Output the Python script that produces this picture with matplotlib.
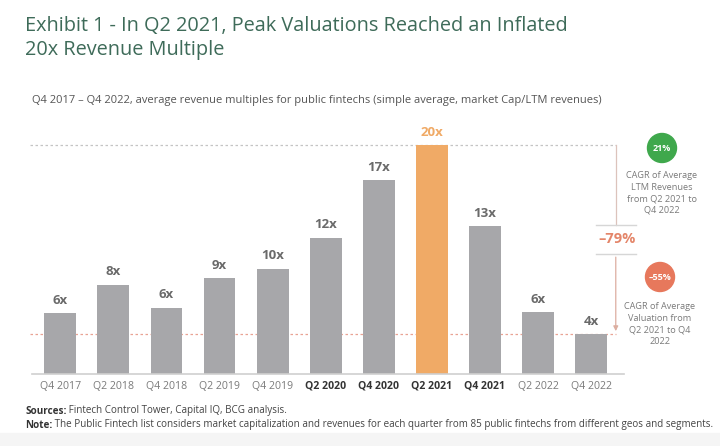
import matplotlib.pyplot as plt
from matplotlib.patches import Ellipse, Rectangle

plt.rcParams['font.family'] = ['Open Sans', 'DejaVu Sans']

# data
quarters = ['Q4 2017', 'Q2 2018', 'Q4 2018', 'Q2 2019', 'Q4 2019', 'Q2 2020',
            'Q4 2020', 'Q2 2021', 'Q4 2021', 'Q2 2022', 'Q4 2022']
multiples = [5.3, 7.8, 5.8, 8.4, 9.2, 11.9, 16.9, 20.0, 12.9, 5.4, 3.5]
value_labels = ['6x', '8x', '6x', '9x', '10x', '12x', '17x', '20x', '13x', '6x', '4x']
bold_quarters = ['Q2 2020', 'Q4 2020', 'Q2 2021', 'Q4 2021']
peak_quarter = 'Q2 2021'
revenue_cagr = '21%'
valuation_cagr = '–55%'
total_change = '–79%'

W, H = 720, 446
GRAY = '#a7a7aa'
ORANGE = '#f0aa66'
GREEN_T = '#3e6b59'
SALMON = '#e4866a'


def fx(x):
    return x / W


def fy(y):
    return 1 - y / H


fig = plt.figure(figsize=(7.2, 4.46), dpi=100)
fig.patches.append(Rectangle((0, 0), 1, fy(433), transform=fig.transFigure,
                             color='#f5f5f5', zorder=0))

ax = fig.add_axes([fx(32), fy(374), fx(624 - 32), fy(130) - fy(374)])
xs = list(range(len(quarters)))
colors = [ORANGE if q == peak_quarter else GRAY for q in quarters]
ax.bar(xs, multiples, width=0.6, color=colors, zorder=2)

ax.set_xlim(-0.533, 10.62)
ax.set_ylim(0, 244 / 11.45)
for s in ['top', 'right', 'left']:
    ax.spines[s].set_visible(False)
ax.spines['bottom'].set_color('#cfcfcf')
ax.spines['bottom'].set_linewidth(1.2)
ax.set_yticks([])
ax.set_xticks(xs)
ax.set_xticklabels(quarters, fontsize=7.6)
ax.tick_params(axis='x', length=0, pad=5)
for lab in ax.get_xticklabels():
    if lab.get_text() in bold_quarters:
        lab.set_fontweight('bold')
        lab.set_color('#333333')
    else:
        lab.set_color('#7a7a7a')

for x, v, lab, q in zip(xs, multiples, value_labels, quarters):
    ax.text(x, v + 0.55, lab, ha='center', va='bottom', fontsize=9.5,
            fontweight='bold',
            color=ORANGE if q == peak_quarter else '#6a6a6a')

# reference lines: peak and last value
peak = max(multiples)
last = multiples[-1]
x_arrow = 10.465
ax.plot([-0.57, x_arrow], [peak, peak], ls=(0, (2, 2)), color='#c4c4c4',
        lw=0.9, clip_on=False, zorder=1)
ax.plot([-0.57, x_arrow], [last, last], ls=(0, (2, 2)), color='#e9a394',
        lw=0.9, clip_on=False, zorder=1)

mid = (peak + last) / 2
gap = 1.3
ax.plot([x_arrow, x_arrow], [peak, mid + gap], color='#dcc3bc', lw=0.9,
        clip_on=False)
ax.annotate('', xy=(x_arrow, last), xytext=(x_arrow, mid - gap),
            arrowprops=dict(arrowstyle='-|>', color='#dcaea0', lw=0.9,
                            mutation_scale=7), annotation_clip=False)
for yy in (mid + gap, mid - gap):
    ax.plot([10.10, 10.84], [yy, yy], color='#d6d6d6', lw=1.0, clip_on=False)
ax.text(x_arrow + 0.02, mid, total_change, ha='center', va='center',
        fontsize=10.5, fontweight='bold', color=SALMON)

# CAGR bubbles
fig.patches.append(Ellipse((fx(662), fy(148)), 29 / W, 29 / H,
                           transform=fig.transFigure, color='#3fa84c'))
fig.text(fx(662), fy(148), revenue_cagr, ha='center', va='center',
         fontsize=6.5, fontweight='bold', color='white')
fig.text(fx(662), fy(193), 'CAGR of Average\nLTM Revenues\nfrom Q2 2021 to\nQ4 2022',
         ha='center', va='center', fontsize=6.6, color='#7a7a7a',
         linespacing=1.35)
fig.patches.append(Ellipse((fx(660), fy(277)), 29 / W, 29 / H,
                           transform=fig.transFigure, color='#e7785c'))
fig.text(fx(660), fy(277), valuation_cagr, ha='center', va='center',
         fontsize=6.5, fontweight='bold', color='white')
fig.text(fx(660), fy(324), 'CAGR of Average\nValuation from\nQ2 2021 to Q4\n2022',
         ha='center', va='center', fontsize=6.6, color='#7a7a7a',
         linespacing=1.35)

# titles
fig.text(fx(25), fy(26), 'Exhibit 1 - In Q2 2021, Peak Valuations Reached an Inflated',
         ha='left', va='center', fontsize=14.3, color=GREEN_T)
fig.text(fx(25), fy(50), '20x Revenue Multiple',
         ha='left', va='center', fontsize=14.3, color=GREEN_T)
fig.text(fx(32), fy(100),
         'Q4 2017 – Q4 2022, average revenue multiples for public fintechs '
         '(simple average, market Cap/LTM revenues)',
         ha='left', va='center', fontsize=8.0, color='#555555')

# footnotes: bold lead word followed by normal text
t1 = fig.text(fx(25), fy(411), 'Sources:', ha='left', va='center',
              fontsize=7.1, fontweight='bold', color='#333333')
ax.annotate(' Fintech Control Tower, Capital IQ, BCG analysis.', xy=(1, 0.5),
            xycoords=t1, va='center', ha='left', fontsize=7.1, color='#444444')
t2 = fig.text(fx(25), fy(425), 'Note:', ha='left', va='center',
              fontsize=7.1, fontweight='bold', color='#333333')
ax.annotate(' The Public Fintech list considers market capitalization and revenues '
            'for each quarter from 85 public fintechs from different geos and segments.',
            xy=(1, 0.5), xycoords=t2, va='center', ha='left', fontsize=7.1,
            color='#444444')

fig.savefig('out.png', dpi=100)
